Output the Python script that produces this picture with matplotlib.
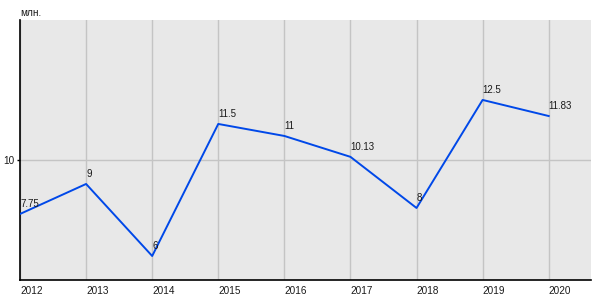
import matplotlib
matplotlib.use("Agg")
import matplotlib.pyplot as plt

plt.rcParams['font.family'] = ['Liberation Sans', 'DejaVu Sans']

years = [2012, 2013, 2014, 2015, 2016, 2017, 2018, 2019, 2020]
values = [7.75, 9, 6, 11.5, 11, 10.13, 8, 12.5, 11.83]
labels = ["7.75", "9", "6", "11.5", "11", "10.13", "8", "12.5", "11.83"]
yticks = [10]
unit = "млн."

fig = plt.figure(figsize=(6, 3), dpi=100)
ax = fig.add_axes([20/600, 20/300, 571/600, 260/300])
ax.set_facecolor("#e8e8e8")
ax.plot(years, values, color="#0048e8", lw=1.4, zorder=3)
for x, y, t in zip(years, values, labels):
    ax.annotate(t, (x, y), xytext=(0, 3.5), textcoords="offset points",
                ha="left", va="bottom", fontsize=7, color="#1a1a1a", zorder=4)
ax.set_xlim(2012, 2020.64)
ax.set_ylim(5, 15.83)
ax.set_xticks(years)
ax.set_xticklabels([str(y) for y in years], ha="left")
ax.set_yticks(yticks)
ax.set_yticklabels([str(v) for v in yticks])
ax.grid(True, color="#c4c4c4", lw=1)
ax.set_axisbelow(True)
for s in ["top", "right"]:
    ax.spines[s].set_visible(False)
for s in ["left", "bottom"]:
    ax.spines[s].set_color("black")
    ax.spines[s].set_linewidth(1.2)
ax.tick_params(axis="x", length=0, labelsize=7.2, pad=4, labelcolor="#1a1a1a")
ax.tick_params(axis="y", length=2.2, width=1, labelsize=7.2, pad=2, labelcolor="#1a1a1a")
fig.text(20/600, 1 - 13/300, unit, fontsize=7.2, ha="left", va="center", color="#1a1a1a")
fig.savefig("out.png", dpi=100)
